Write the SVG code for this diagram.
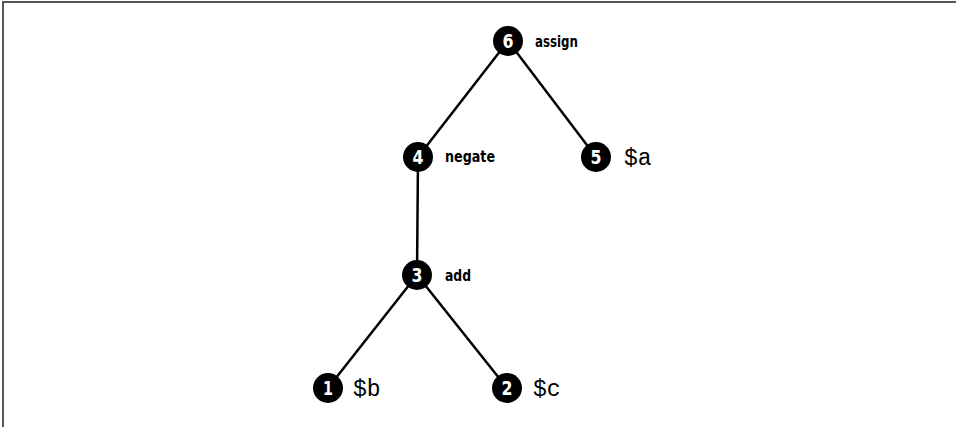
<svg xmlns="http://www.w3.org/2000/svg" width="957" height="427" viewBox="0 0 957 427">
<style>
.frame{stroke:#555;stroke-width:2;fill:none}
.edge{stroke:#000;stroke-width:2.5;fill:none}
.dot{fill:#000}
.num{font-family:"DejaVu Sans Condensed","DejaVu Sans",sans-serif;font-weight:bold;font-size:19px;fill:#fff;text-anchor:middle}
.op{font-family:"DejaVu Sans Condensed","DejaVu Sans",sans-serif;font-weight:bold;font-size:16px;fill:#000}
.var{font-family:"Liberation Mono","DejaVu Sans Mono",monospace;font-size:23px;fill:#000}
</style>
<rect width="957" height="427" fill="#fff"/>
<path class="frame" d="M3,427 V2 H956"/>
<g id="connectors">
<line class="edge" x1="508" y1="41" x2="418" y2="157"/>
<line class="edge" x1="508" y1="41" x2="596" y2="157"/>
<line class="edge" x1="418" y1="157" x2="417" y2="275"/>
<line class="edge" x1="417" y1="275" x2="328" y2="388"/>
<line class="edge" x1="417" y1="275" x2="507" y2="388"/>
</g>
<g id="node6"><circle class="dot" cx="508" cy="41" r="15"/><text class="num" x="508" y="48" textLength="11" lengthAdjust="spacingAndGlyphs">6</text><text class="op" x="535" y="47" textLength="43" lengthAdjust="spacingAndGlyphs">assign</text></g>
<g id="node4"><circle class="dot" cx="418" cy="157" r="15"/><text class="num" x="418" y="164" textLength="11" lengthAdjust="spacingAndGlyphs">4</text><text class="op" x="445" y="162" textLength="50" lengthAdjust="spacingAndGlyphs">negate</text></g>
<g id="node5"><circle class="dot" cx="596" cy="157" r="15"/><text class="num" x="596" y="164" textLength="11" lengthAdjust="spacingAndGlyphs">5</text><text class="var" x="624" y="165">$a</text></g>
<g id="node3"><circle class="dot" cx="417" cy="275" r="15"/><text class="num" x="417" y="282" textLength="11" lengthAdjust="spacingAndGlyphs">3</text><text class="op" x="445" y="281" textLength="26" lengthAdjust="spacingAndGlyphs">add</text></g>
<g id="node1"><circle class="dot" cx="328" cy="388" r="15"/><text class="num" x="328" y="395" textLength="10" lengthAdjust="spacingAndGlyphs">1</text><text class="var" x="353" y="396">$b</text></g>
<g id="node2"><circle class="dot" cx="507" cy="388" r="15"/><text class="num" x="507" y="395" textLength="11" lengthAdjust="spacingAndGlyphs">2</text><text class="var" x="533" y="396">$c</text></g>
</svg>
